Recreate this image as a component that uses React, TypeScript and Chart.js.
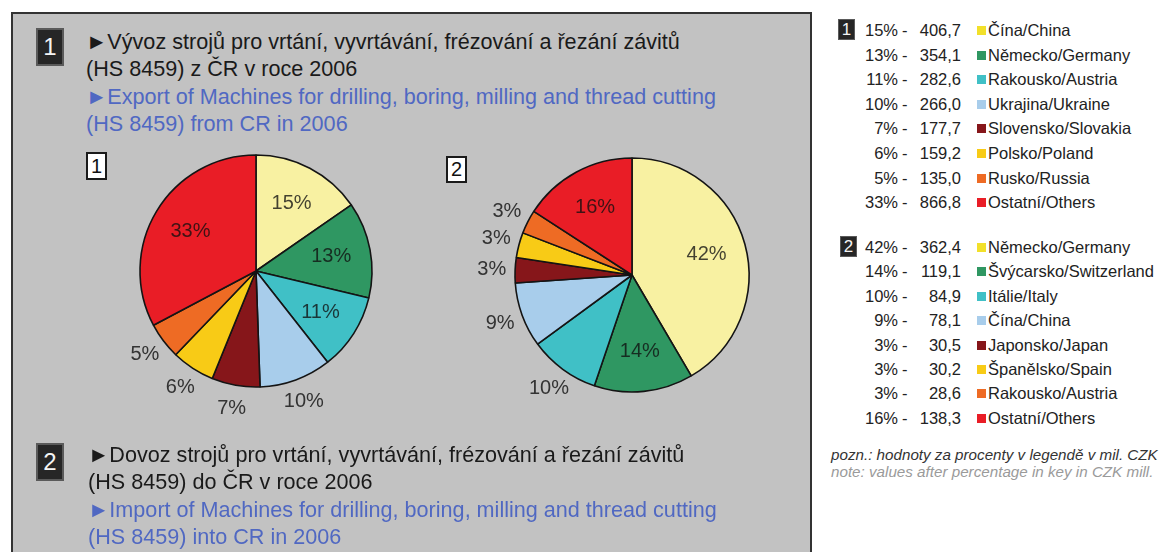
import React, { useEffect, useRef } from "react";
import { Chart, registerables } from "chart.js";

Chart.register(...registerables);

// ---------- DATA ----------
const exportCountries = [
  "Čína/China",
  "Německo/Germany",
  "Rakousko/Austria",
  "Ukrajina/Ukraine",
  "Slovensko/Slovakia",
  "Polsko/Poland",
  "Rusko/Russia",
  "Ostatní/Others",
];
const exportValues = [406.7, 354.1, 282.6, 266.0, 177.7, 159.2, 135.0, 866.8];
const exportPercents = [15, 13, 11, 10, 7, 6, 5, 33];

const importCountries = [
  "Německo/Germany",
  "Švýcarsko/Switzerland",
  "Itálie/Italy",
  "Čína/China",
  "Japonsko/Japan",
  "Španělsko/Spain",
  "Rakousko/Austria",
  "Ostatní/Others",
];
const importValues = [362.4, 119.1, 84.9, 78.1, 30.5, 30.2, 28.6, 138.3];
const importPercents = [42, 14, 10, 9, 3, 3, 3, 16];

const sliceColors = [
  "#f8f1a2",
  "#2f9762",
  "#40c0c6",
  "#a8cdeb",
  "#86161a",
  "#f8cb16",
  "#ee6b24",
  "#e91d26",
];
const keyColors = [
  "#f2e02a",
  "#2f9762",
  "#40c0c6",
  "#a8cdeb",
  "#86161a",
  "#f8cb16",
  "#ee6b24",
  "#e91d26",
];

const exportTitleCz = ["►Vývoz strojů pro vrtání, vyvrtávání, frézování a řezání závitů", "(HS 8459) z ČR v roce 2006"];
const exportTitleEn = ["►Export of Machines for drilling, boring, milling and thread cutting", "(HS 8459) from CR in 2006"];
const importTitleCz = ["►Dovoz strojů pro vrtání, vyvrtávání, frézování a řezání závitů", "(HS 8459) do ČR v roce 2006"];
const importTitleEn = ["►Import of Machines for drilling, boring, milling and thread cutting", "(HS 8459) into CR in 2006"];
const noteCz = "pozn.: hodnoty za procenty v legendě v mil. CZK";
const noteEn = "note: values after percentage in key in CZK mill.";

const FONT = '"Liberation Sans", Arial, Helvetica, sans-serif';

const fmt = (v: number) => v.toFixed(1).replace(".", ",");

// ---------- label plugin ----------
const sliceLabelPlugin = {
  id: "sliceLabels",
  afterDatasetsDraw(chart: any, _args: any, opts: any) {
    const { ctx } = chart;
    const meta = chart.getDatasetMeta(0);
    const data: number[] = chart.data.datasets[0].data;
    const total = data.reduce((a, b) => a + b, 0);
    const pcts: number[] = opts.percents || [];
    meta.data.forEach((arc: any, i: number) => {
      const p = arc.getProps(["x", "y", "startAngle", "endAngle", "outerRadius"], true);
      const mid = (p.startAngle + p.endAngle) / 2;
      const share = data[i] / total;
      const inside = share > 0.105;
      const rr = inside ? p.outerRadius * 0.66 : p.outerRadius * 1.2;
      ctx.save();
      ctx.font = "20px " + FONT;
      ctx.fillStyle = inside ? "rgba(15,15,15,0.78)" : "#333333";
      ctx.textAlign = "center";
      ctx.textBaseline = "middle";
      ctx.fillText(pcts[i] + "%", p.x + Math.cos(mid) * rr, p.y + Math.sin(mid) * rr);
      ctx.restore();
    });
  },
};

function Pie(props: { values: number[]; percents: number[]; labels: string[]; left: number; top: number; w: number; h: number; radius: number }) {
  const ref = useRef<HTMLCanvasElement>(null);
  useEffect(() => {
    if (!ref.current) return;
    const chart = new Chart(ref.current, {
      type: "pie",
      data: {
        labels: props.labels,
        datasets: [
          {
            data: props.values,
            backgroundColor: sliceColors,
            borderColor: "#141414",
            borderWidth: 1.6,
            radius: props.radius,
          } as any,
        ],
      },
      options: {
        responsive: false,
        maintainAspectRatio: false,
        animation: false,
        events: [],
        layout: { padding: 0 },
        plugins: {
          legend: { display: false },
          tooltip: { enabled: false },
          sliceLabels: { percents: props.percents },
        } as any,
      },
      plugins: [sliceLabelPlugin as any],
    });
    return () => chart.destroy();
  }, []);
  return (
    <canvas
      ref={ref}
      width={props.w}
      height={props.h}
      style={{ position: "absolute", left: props.left, top: props.top, width: props.w, height: props.h }}
    />
  );
}

function Badge(props: { text: string; left: number; top: number; w: number; h: number; size: number; border: number }) {
  return (
    <div
      style={{
        position: "absolute",
        left: props.left,
        top: props.top,
        width: props.w,
        height: props.h,
        boxSizing: "border-box",
        background: "#262626",
        border: props.border + "px solid #5a5a5a",
        color: "#f4f4f4",
        fontFamily: FONT,
        fontSize: props.size,
        lineHeight: props.h - 2 * props.border + "px",
        textAlign: "center",
      }}
    >
      {props.text}
    </div>
  );
}

function SmallBox(props: { text: string; left: number; top: number; h: number }) {
  return (
    <div
      style={{
        position: "absolute",
        left: props.left,
        top: props.top,
        width: 21,
        height: props.h,
        boxSizing: "border-box",
        background: "#ffffff",
        border: "2px solid #1a1a1a",
        color: "#111",
        fontFamily: FONT,
        fontSize: 20,
        lineHeight: props.h - 4 + "px",
        textAlign: "center",
      }}
    >
      {props.text}
    </div>
  );
}

function TitleBlock(props: { cz: string[]; en: string[]; left: number; top: number; lh: number }) {
  const lines = [
    { t: props.cz[0], c: "#1a1a1a" },
    { t: props.cz[1], c: "#1a1a1a" },
    { t: props.en[0], c: "#5068c2" },
    { t: props.en[1], c: "#5068c2" },
  ];
  return (
    <div style={{ position: "absolute", left: props.left, top: props.top, fontFamily: FONT, fontSize: 21.6, lineHeight: props.lh + "px", whiteSpace: "nowrap" }}>
      {lines.map((l, i) => (
        <div key={i} style={{ color: l.c }}>
          {l.t}
        </div>
      ))}
    </div>
  );
}

function Key(props: { percents: number[]; values: number[]; names: string[]; top: number; step: number }) {
  return (
    <>
      {props.names.map((n, i) => {
        const cy = props.top + i * props.step;
        const rowStyle: any = { position: "absolute", top: cy - 12, height: 24, lineHeight: "24px", fontFamily: FONT, fontSize: 16.5, color: "#222", whiteSpace: "nowrap" };
        return (
          <React.Fragment key={i}>
            <div style={{ ...rowStyle, left: 850, width: 48, textAlign: "right" }}>{props.percents[i] + "%"}</div>
            <div style={{ ...rowStyle, left: 902 }}>-</div>
            <div style={{ ...rowStyle, left: 905, width: 56, textAlign: "right" }}>{fmt(props.values[i])}</div>
            <div style={{ position: "absolute", left: 977, top: cy - 4, width: 9, height: 9, background: keyColors[i] }} />
            <div style={{ ...rowStyle, left: 988 }}>{n}</div>
          </React.Fragment>
        );
      })}
    </>
  );
}

export default function App() {
  useEffect(() => {
    document.body.style.margin = "0";
  }, []);
  return (
    <div style={{ position: "absolute", left: 0, top: 0, width: 1160, height: 552, background: "#ffffff", overflow: "hidden" }}>
      <div
        style={{
          position: "absolute",
          left: 11,
          top: 12,
          width: 801,
          height: 560,
          boxSizing: "border-box",
          background: "#c2c2c2",
          borderLeft: "2px solid #333",
          borderTop: "2px solid #333",
          borderRight: "2px solid #333",
        }}
      />
      <Badge text="1" left={36} top={28} w={28} h={38} size={24} border={2} />
      <TitleBlock cz={exportTitleCz} en={exportTitleEn} left={86} top={28} lh={27.3} />
      <SmallBox text="1" left={86} top={152} h={28} />
      <SmallBox text="2" left={446} top={156} h={27} />
      <Pie values={exportValues} percents={exportPercents} labels={exportCountries} left={76} top={101} w={360} h={340} radius={116} />
      <Pie values={importValues} percents={importPercents} labels={importCountries} left={452} top={105} w={360} h={340} radius={117} />
      <Badge text="2" left={36} top={443} w={28} h={38} size={24} border={2} />
      <TitleBlock cz={importTitleCz} en={importTitleEn} left={88} top={441} lh={27.3} />

      <Badge text="1" left={838} top={19} w={17} h={21} size={17} border={1} />
      <Key percents={exportPercents} values={exportValues} names={exportCountries} top={30} step={24.6} />
      <Badge text="2" left={840} top={236} w={17} h={21} size={17} border={1} />
      <Key percents={importPercents} values={importValues} names={importCountries} top={247} step={24.4} />
      <div style={{ position: "absolute", left: 831, top: 446, fontFamily: FONT, fontStyle: "italic", fontSize: 15.2, lineHeight: "17px", whiteSpace: "nowrap" }}>
        <div style={{ color: "#333" }}>{noteCz}</div>
        <div style={{ color: "#9a9a9a" }}>{noteEn}</div>
      </div>
    </div>
  );
}
